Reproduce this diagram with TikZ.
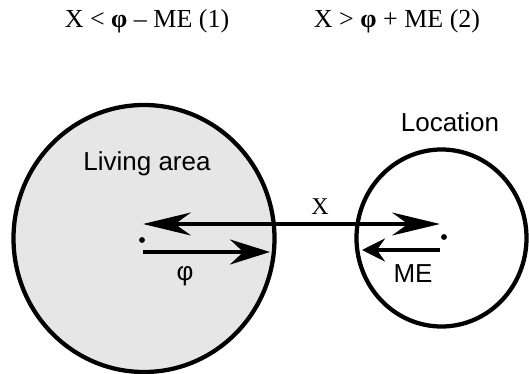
\documentclass[tikz,border=0pt]{standalone}
\usepackage{fontspec}
\setmainfont{Liberation Serif}
\setsansfont{Liberation Sans}
\usetikzlibrary{arrows.meta,shapes.geometric}
\definecolor{areagray}{RGB}{230,230,230}

\begin{document}
\begin{tikzpicture}[
  x=0.75pt, y=-0.75pt,
  zone/.style={ellipse,draw=black,line width=3.2pt,inner sep=0pt},
  lbl/.style={font=\sffamily\fontsize{19.5}{23}\selectfont,anchor=base},
  eq/.style={font=\fontsize{19.5}{23}\selectfont,anchor=base},
  dot/.style={circle,fill=black,inner sep=0pt,minimum size=4.4pt},
  arr/.style={line width=2.6pt},
  xarr/.style={arr,{Stealth[length=36pt,width=17.25pt,inset=12pt]}-{Stealth[length=36pt,width=17.25pt,inset=12pt]}},
  phiarr/.style={arr,-{Stealth[length=30pt,width=18.75pt,inset=10pt]}},
  mearr/.style={arr,-{Stealth[length=17.25pt,width=17.25pt,inset=6pt]}},
]
\useasboundingbox (0,0) rectangle (529,374);
% Conditions
\node[eq] (cond1) at (147,28) {X < \textbf{φ} – ME (1)};
\node[eq] (cond2) at (397,28) {X > \textbf{φ} + ME (2)};
% Areas
\node[zone,fill=areagray,minimum width=195.75pt,minimum height=200.25pt] (living) at (144,238.5) {};
\node[zone,fill=white,minimum width=127.5pt,minimum height=132.75pt] (loc) at (441.5,238) {};
\node[lbl] (livinglbl) at (147,171) {Living area};
\node[lbl] (loclbl) at (450,132) {Location};
% Centres
\node[dot] (c1) at (142,240) {};
\node[dot] (c2) at (444,237) {};
% Arrow ends
\coordinate (xl) at (143,224);
\coordinate (xr) at (440,224);
\coordinate (pl) at (143,252);
\coordinate (pr) at (270,252);
\coordinate (mr) at (440,250);
\coordinate (ml) at (362,250);
% Distances
\draw[xarr] (xl) -- (xr);
\draw[phiarr] (pl) -- (pr);
\draw[mearr] (mr) -- (ml);
\node[eq,font=\fontsize{18}{21}\selectfont] (xlbl) at (320,215) {X};
\node[lbl,anchor=center] (philbl) at (185,276) {φ};
\node[lbl] (melbl) at (413,283) {ME};
\end{tikzpicture}
\end{document}
